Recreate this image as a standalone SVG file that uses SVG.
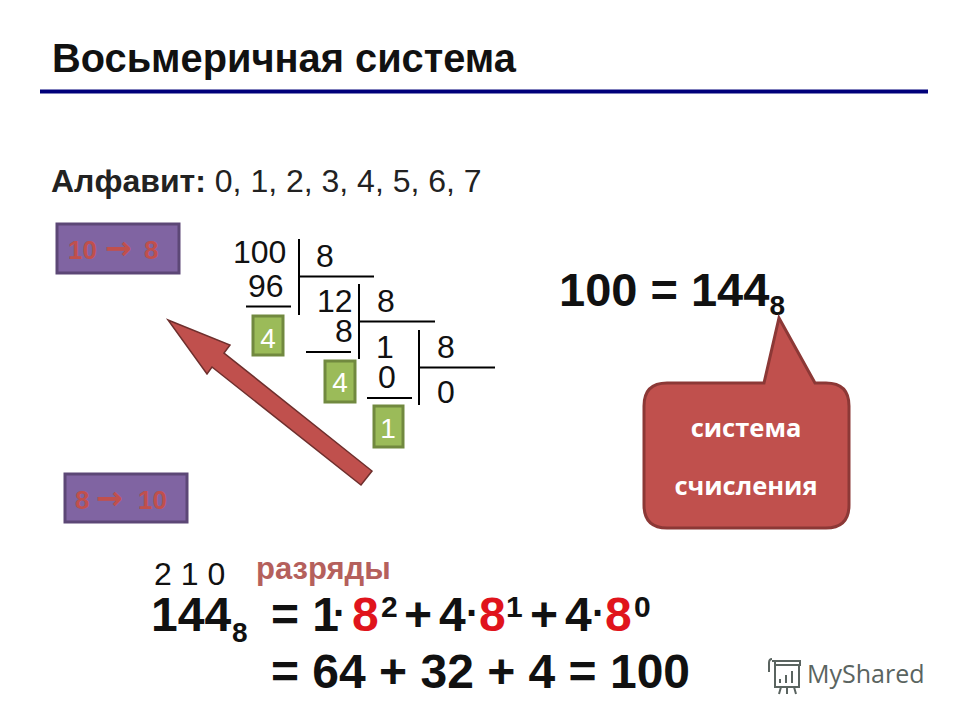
<svg xmlns="http://www.w3.org/2000/svg" width="960" height="720" viewBox="0 0 960 720">
<style>
text{font-family:"Liberation Sans",Arial,sans-serif;fill:#000}
.n{font-size:32px;fill:#111}
.b{font-weight:700}
.f{font-size:48px;font-weight:700;fill:#111}
.d{font-size:40px;font-weight:700;fill:#111}
.u{font-size:30px;font-weight:700;fill:#111}
.r{font-size:48px;font-weight:700;fill:#e0141c}
.g{fill:#9bbb59;stroke:#71893f;stroke-width:3}
.gt{font-size:28px;fill:#fff;text-anchor:middle}
.p{fill:#8064a2;stroke:#5c4776;stroke-width:3}
.pt{font-size:26px;font-weight:700;fill:#c0504d}
.a{font-family:"DejaVu Sans",sans-serif;font-size:32px;font-weight:700;fill:#c0504d}
.l{stroke:#000;stroke-width:2;fill:none}
.c{font-family:"Open Sans","Noto Sans",sans-serif;font-size:25.500px;font-weight:700;fill:#fff;text-anchor:middle}
.w{stroke:#5a6460;stroke-width:2;fill:none}
</style>
<rect width="960" height="720" fill="#fff"/>
<g id="title"><text x="52" y="72" font-size="39.800" class="b" style="fill:#111">Восьмеричная система</text><rect x="40" y="89.500" width="888" height="4" fill="#00007a"/></g>
<g id="alphabet"><text x="51" y="192" font-size="32" style="fill:#222"><tspan class="b">Алфавит:</tspan> 0, 1, 2, 3, 4, 5, 6, 7</text></g>
<g id="btn-10-8"><rect class="p" x="57" y="224" width="122" height="49"/><text class="pt" x="68" y="259">10</text><text class="a" x="105" y="259">→</text><text class="pt" x="144" y="259">8</text></g>
<g id="btn-8-10"><rect class="p" x="65" y="474" width="122" height="48"/><text class="pt" x="75" y="509">8</text><text class="a" x="96" y="509">→</text><text class="pt" x="138" y="509">10</text></g>
<g id="connectors">
<path class="l" d="M299 239V315M300 276.500H374M359 284V359M360 321.500H435M419 330V405M420 367.500H495M246 306.500H291M306 352H351M367 398H412"/>
<path d="M168 320L230 345L224 353L372 471L361 485L212 367L207 374Z" fill="#c0504d" stroke="#6e2f2d" stroke-width="1.500"/>
</g>
<g id="division">
<text class="n" x="233" y="263">100</text><text class="n" x="316" y="267">8</text><text class="n" x="248" y="297">96</text>
<text class="n" x="317" y="312">12</text><text class="n" x="377" y="312">8</text><text class="n" x="335" y="342">8</text>
<text class="n" x="376" y="358">1</text><text class="n" x="437" y="358">8</text><text class="n" x="378" y="388">0</text><text class="n" x="437" y="403">0</text>
</g>
<g id="d1"><rect class="g" x="253" y="316" width="30" height="39"/><text class="gt" x="268" y="348">4</text></g>
<g id="d2"><rect class="g" x="325" y="361" width="30" height="41"/><text class="gt" x="340" y="392">4</text></g>
<g id="d3"><rect class="g" x="374" y="406" width="29" height="41"/><text class="gt" x="388" y="438">1</text></g>
<g id="result"><text x="559" y="306" class="b" style="fill:#111;font-size:47px">100 = 144<tspan style="font-size:28px" dy="9">8</tspan></text></g>
<g id="callout">
<path d="M779 318L815 383H826Q849 383 849 406V505Q849 528 826 528H667Q644 528 644 505V406Q644 383 667 383H764Z" fill="#c0504d" stroke="#8c3836" stroke-width="3"/>
<text class="c" x="746" y="437">система</text><text class="c" x="746" y="495">счисления</text>
</g>
<g id="places"><text x="154" y="585" font-size="32" style="fill:#111">2 1 0</text><text x="256" y="579" style="fill:#b5605c;font-size:31px;font-weight:700">разряды</text></g>
<g id="formula">
<text class="f" x="151" y="631">144</text><text style="font-size:28px;font-weight:700;fill:#111" x="232" y="642">8</text>
<text class="f" x="271" y="631">= 1</text><text class="d" x="333" y="627">·</text><text class="r" x="352" y="631">8</text><text class="u" x="381" y="617">2</text><text class="f" x="404" y="631">+</text>
<text class="f" x="439" y="631">4</text><text class="d" x="466" y="627">·</text><text class="r" x="479" y="631">8</text><text class="u" x="506" y="617">1</text><text class="f" x="530" y="631">+</text>
<text class="f" x="565" y="631">4</text><text class="d" x="592" y="627">·</text><text class="r" x="605" y="631">8</text><text class="u" x="634" y="617">0</text>
<text class="f" x="271" y="688">= 64 + 32 + 4 = 100</text>
</g>
<g id="watermark">
<path class="w" d="M772 661H800V665H775M769 672V663Q769 659 772 659M775 661V687H799V665"/><path class="w" d="M780 683V679M786 683V675M792 683V671M781 687L779 694M787 687V694M794 687L796 694"/>
<text x="807" y="683" style="font-size:25px;fill:#5a6460;font-family:'Open Sans',sans-serif">MyShared</text>
</g>
</svg>
